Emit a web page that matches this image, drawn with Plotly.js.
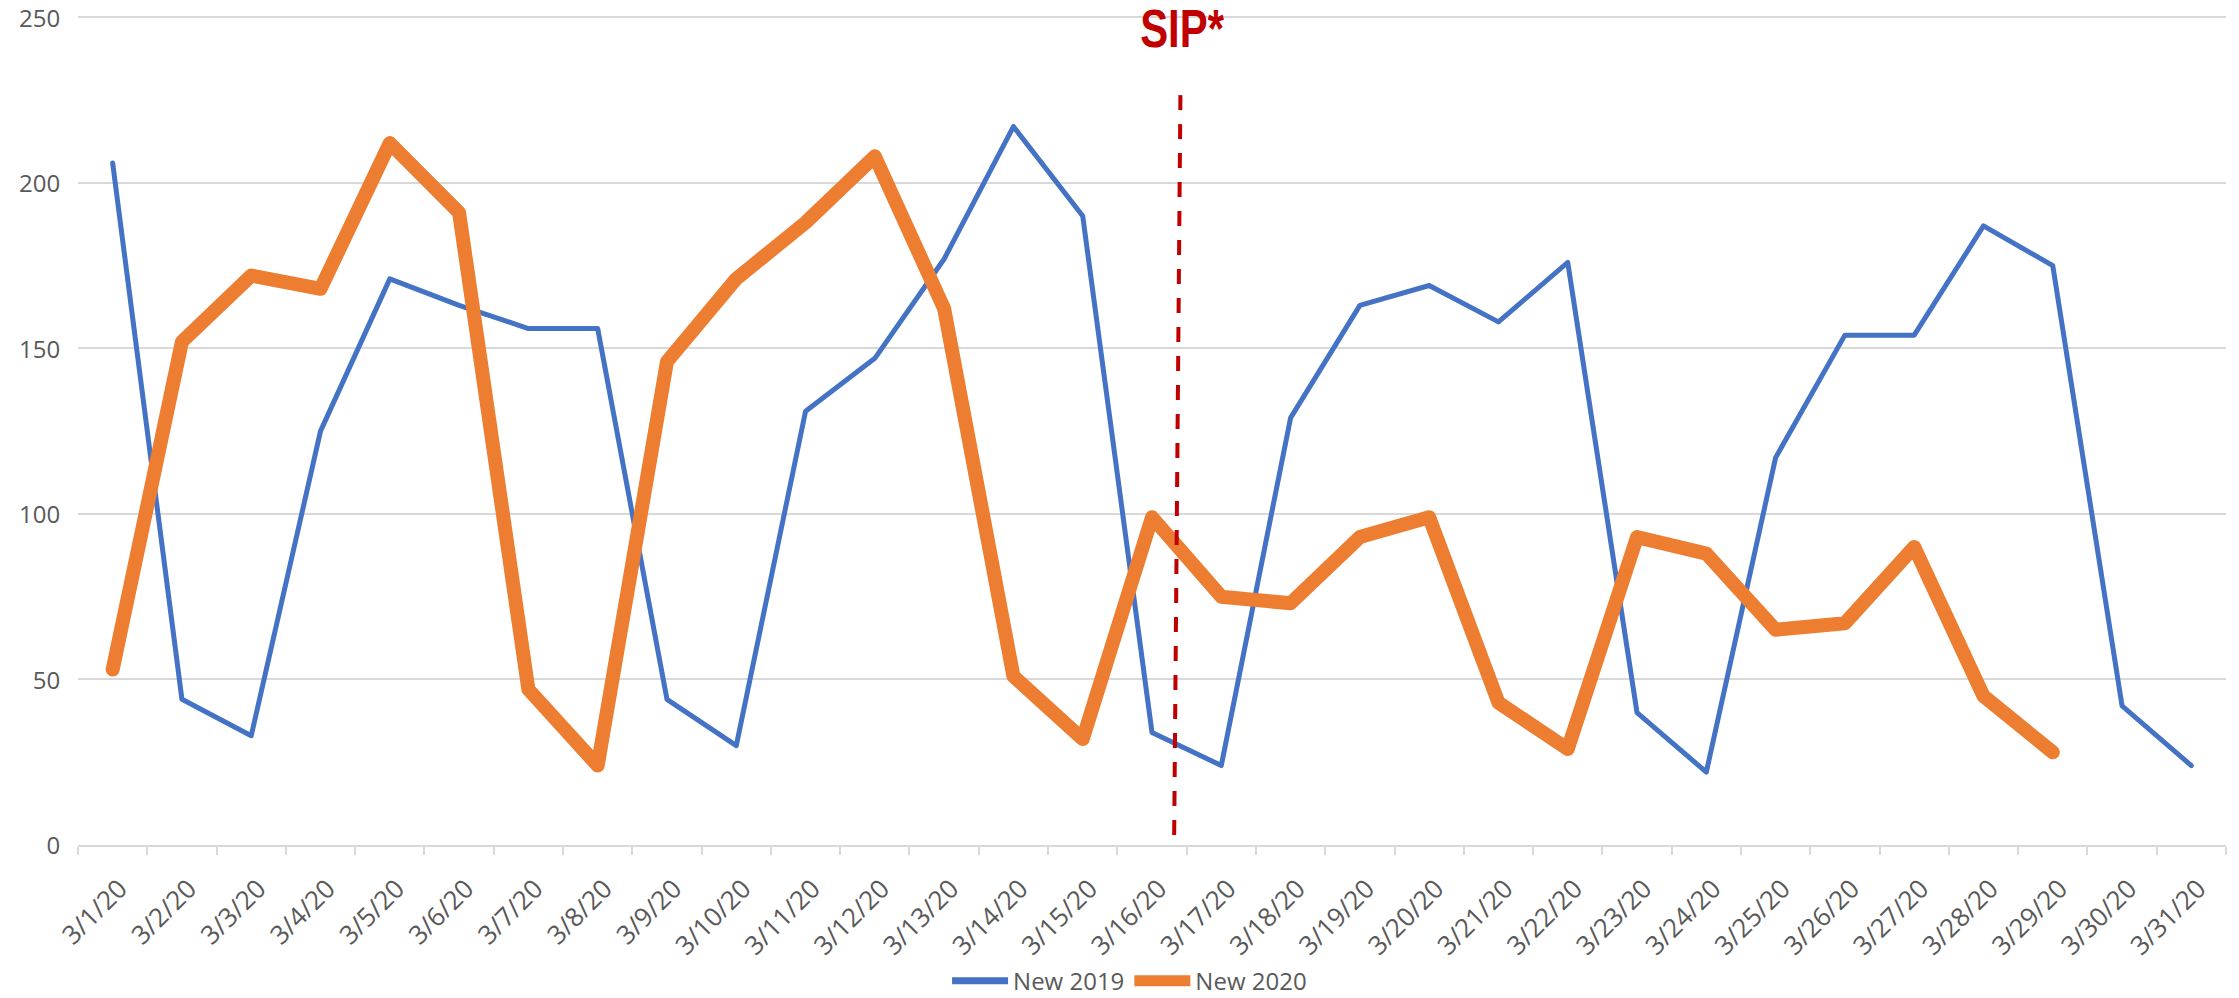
<!DOCTYPE html>
<html>
<head>
<meta charset="utf-8">
<script src="https://cdn.plot.ly/plotly-3.0.1.min.js"></script>
<style>
  html, body { margin: 0; padding: 0; background: #fff; }
  #chart { width: 2239px; height: 998px; }
  .scatterlayer .js-line { stroke-linejoin: round; stroke-linecap: round; }
</style>
</head>
<body>
<div id="chart"></div>
<script>
const dates = ["3/1/20","3/2/20","3/3/20","3/4/20","3/5/20","3/6/20","3/7/20","3/8/20","3/9/20","3/10/20",
  "3/11/20","3/12/20","3/13/20","3/14/20","3/15/20","3/16/20","3/17/20","3/18/20","3/19/20","3/20/20",
  "3/21/20","3/22/20","3/23/20","3/24/20","3/25/20","3/26/20","3/27/20","3/28/20","3/29/20","3/30/20","3/31/20"];

const new2019 = [206, 44, 33, 125, 171, 163, 156, 156, 44, 30,
  131, 147, 177, 217, 190, 34, 24, 129, 163, 169,
  158, 176, 40, 22, 117, 154, 154, 187, 175, 42, 24];

const new2020 = [53, 152, 172, 168, 212, 191, 47, 24, 146, 171,
  188, 208, 162, 51, 32, 99, 75, 73, 93, 99,
  43, 29, 93, 88, 65, 67, 90, 45, 28];

const yTicks = [0, 50, 100, 150, 200, 250];
const yTickText = ["0", "50", "100", "150", "200", "250"];

// SIP marker position (between 3/16 and 3/17, as category-index position)
const sipLabel = "SIP*";
const sipTopX = 15.41, sipBottomX = 15.32;
const sipTopY = 226.5, sipBottomY = 3;
const sipTextX = 15.44, sipTextY = 246.5;

const tickFontX = { family: "Open Sans, Lato, sans-serif", size: 26, color: "#595959" };
const tickFontY = { family: "Open Sans, Lato, sans-serif", size: 24, color: "#595959" };

const traces = [
  {
    type: "scatter", mode: "lines", name: "New 2019",
    x: dates, y: new2019,
    line: { color: "#4472C4", width: 5 }
  },
  {
    type: "scatter", mode: "lines", name: "New 2020",
    x: dates.slice(0, new2020.length), y: new2020,
    line: { color: "#ED7D31", width: 14 }
  }
];

const layout = {
  width: 2239, height: 998,
  margin: { l: 78, r: 13, t: 14, b: 153 },
  paper_bgcolor: "#ffffff", plot_bgcolor: "#ffffff",
  showlegend: true,
  legend: {
    orientation: "h",
    xref: "container", yref: "container",
    x: 0.5045, xanchor: "center", y: 0.017, yanchor: "middle",
    font: { family: "Open Sans, Lato, sans-serif", size: 24, color: "#595959" },
    itemwidth: 56
  },
  xaxis: {
    type: "category",
    tickangle: -45,
    tickson: "boundaries",
    ticks: "outside", ticklen: 8, tickcolor: "#D9D9D9", tickwidth: 2,
    showgrid: false, zeroline: false,
    showline: true, linecolor: "#D9D9D9", linewidth: 2,
    tickfont: tickFontX,
    ticklabelstandoff: 6,
    range: [-0.5, 30.5]
  },
  yaxis: {
    range: [0, 251],
    tickvals: yTicks,
    ticktext: yTickText,
    ticklabeloverflow: "allow",
    showgrid: true, gridcolor: "#D9D9D9", gridwidth: 2,
    zeroline: false, showline: false,
    ticks: "outside", ticklen: 12, tickcolor: "rgba(0,0,0,0)",
    tickfont: tickFontY
  },
  shapes: [
    {
      type: "line", xref: "x", yref: "y",
      x0: sipTopX, x1: sipBottomX, y0: sipTopY, y1: sipBottomY,
      line: { color: "#C00000", width: 4, dash: "15px,14px" }
    }
  ],
  annotations: [
    {
      xref: "x", yref: "y", x: sipTextX, y: sipTextY,
      xanchor: "center", yanchor: "middle",
      text: "<b>" + sipLabel + "</b>", showarrow: false,
      font: { family: "Liberation Sans, Arial, sans-serif", size: 53, color: "#C00000" }
    }
  ]
};

Plotly.newPlot("chart", traces, layout, { displayModeBar: false, staticPlot: true }).then(function (gd) {
  // condense the SIP* label horizontally to mimic the narrow bold face of the original
  document.querySelectorAll("#chart text.annotation-text").forEach(function (t) {
    const bb = t.getBBox();
    const cx = bb.x + bb.width / 2;
    t.setAttribute("transform", "translate(" + cx + ",0) scale(0.79,1) translate(" + (-cx) + ",0)");
  });
  // nudge rotated date labels so their ends sit like the original's
  document.querySelectorAll("#chart .xtick text").forEach(function (t) {
    const tr = t.getAttribute("transform") || "";
    t.setAttribute("transform", "translate(7,10) " + tr);
  });
  // nudge the y labels down a touch so the top one stays inside the page
  document.querySelectorAll("#chart .ytick text").forEach(function (t) {
    const tr = t.getAttribute("transform") || "";
    t.setAttribute("transform", "translate(0,1) " + tr);
  });
  // thicker legend swatches as in the original
  const legendWidths = [7, 11];
  document.querySelectorAll("#chart .legend .traces").forEach(function (g, i) {
    g.querySelectorAll("path.js-line").forEach(function (p) {
      p.style.strokeWidth = legendWidths[i] + "px";
    });
  });
});
</script>
</body>
</html>
